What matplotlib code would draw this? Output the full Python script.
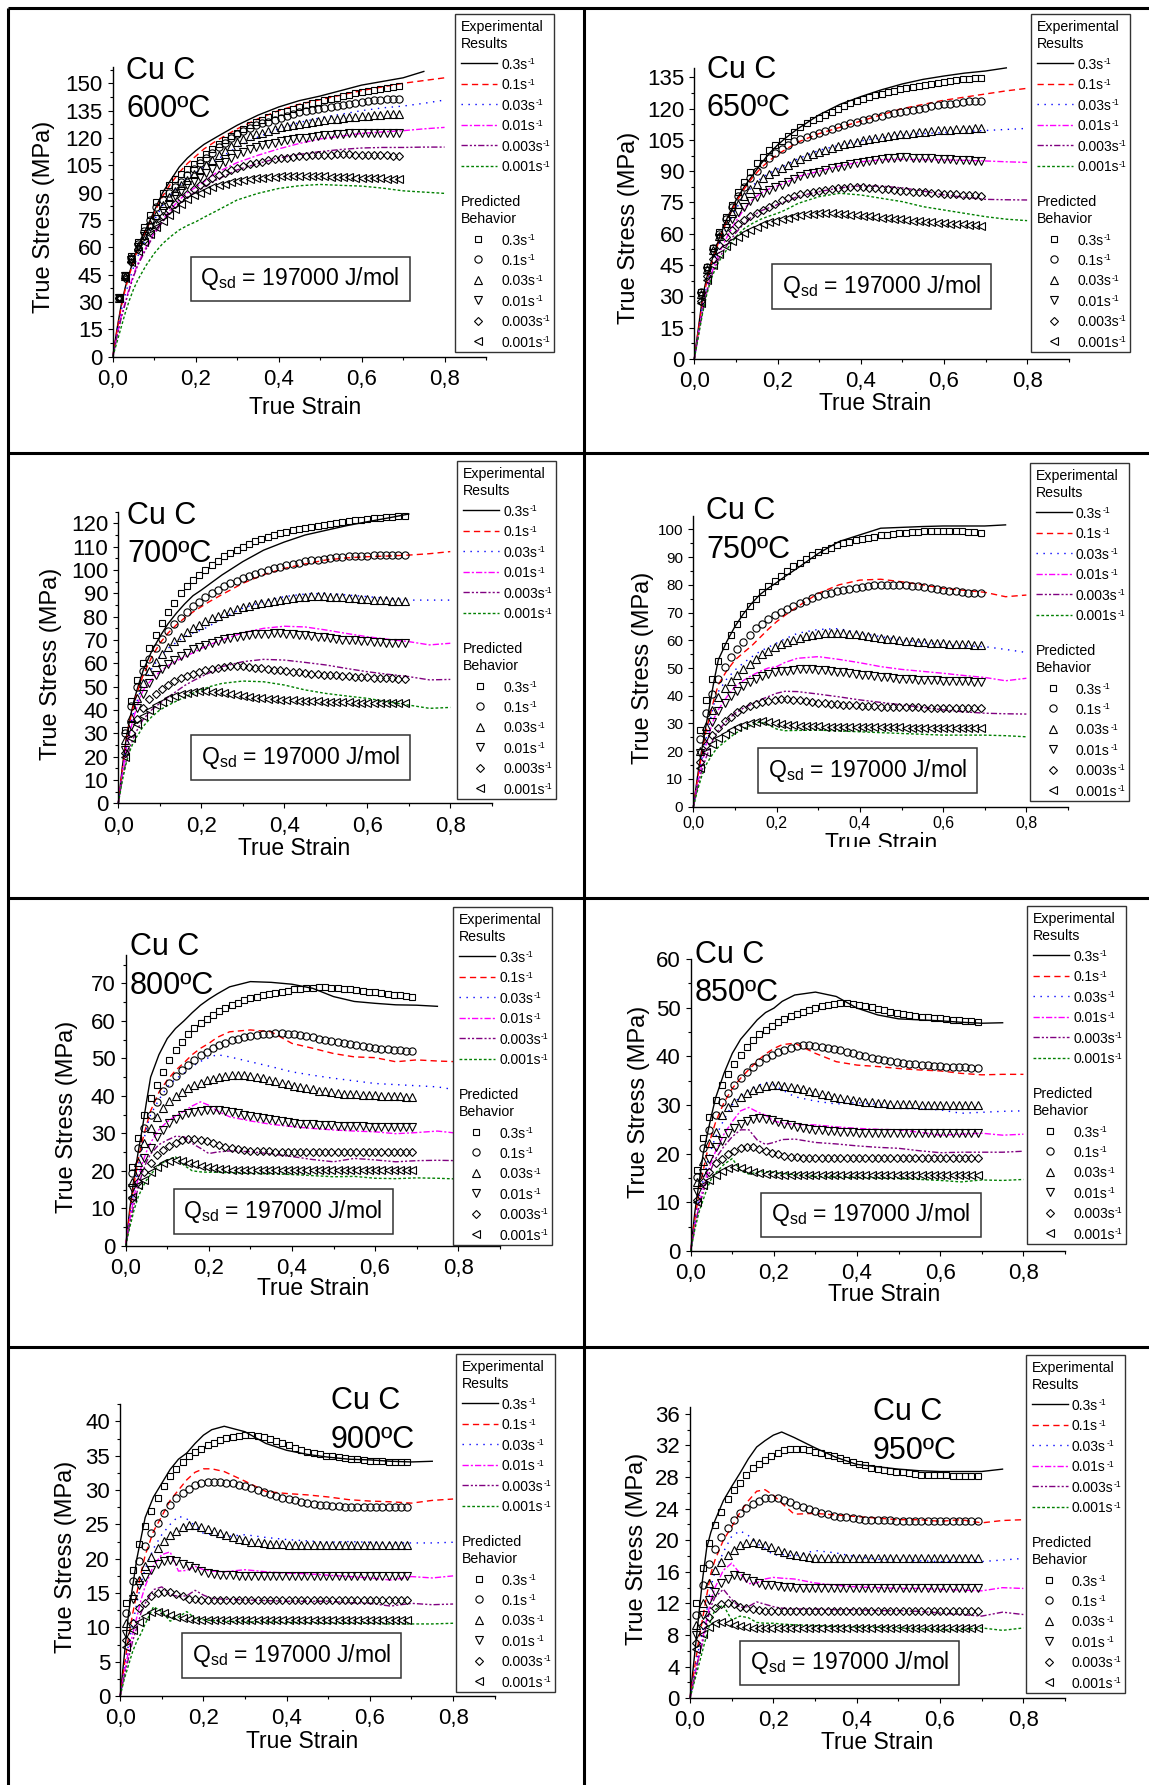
import numpy as np
import matplotlib
matplotlib.use('Agg')
import matplotlib.pyplot as plt
from matplotlib.patches import Rectangle
from matplotlib.ticker import MultipleLocator, FuncFormatter
from matplotlib.transforms import Bbox, TransformedBbox

plt.rcParams['font.family'] = ['Liberation Sans', 'DejaVu Sans']
plt.rcParams['mathtext.fontset'] = 'custom'
plt.rcParams['mathtext.rm'] = 'Liberation Sans'
plt.rcParams['mathtext.it'] = 'Liberation Sans:italic'
plt.rcParams['mathtext.bf'] = 'Liberation Sans:bold'

W, H = 1149, 1785
nan = np.nan

rates = ['0.3', '0.1', '0.03', '0.01', '0.003', '0.001']
temps = ['600', '650', '700', '750', '800', '850', '900', '950']

# strain where the experimental curves were read
exp_strain = [0, 0.01, 0.02, 0.03, 0.04, 0.05, 0.06, 0.08, 0.1, 0.12,
              0.14, 0.16, 0.18, 0.2, 0.22, 0.25, 0.3, 0.35, 0.4, 0.45,
              0.5, 0.55, 0.6, 0.65, 0.7, 0.75, 0.8]
# strain of the predicted points
pred_strain = [0.015, 0.03, 0.045, 0.06, 0.075, 0.09, 0.105, 0.12, 0.135, 0.15,
               0.165, 0.18, 0.195, 0.21, 0.225, 0.24, 0.255, 0.27, 0.285, 0.3,
               0.315, 0.33, 0.345, 0.36, 0.375, 0.39, 0.405, 0.42, 0.435, 0.45,
               0.465, 0.48, 0.495, 0.51, 0.525, 0.54, 0.555, 0.57, 0.585, 0.6,
               0.615, 0.63, 0.645, 0.66, 0.675, 0.69]

# ---------------- 600 C ----------------
exp600 = [
    [0, 15, 28, 38, 46, 53, 60, 70, 80, 90, 97, 104, 109, 113, 116.5, 120.5, 127, 132.5, 137, 140.5,
     143, 146, 149, 151, 153, 156.5, nan],
    [0, 14, 27, 37, 45, 52, 59, 69, 79, 88, 95, 101, 106, 110, 114, 118.5, 125, 130.5, 135, 138.5,
     141, 143.5, 146, 148, 150, 151.5, 153],
    [0, 13, 25, 34, 42, 49, 55, 65, 75, 83, 89, 94, 98, 101, 104, 108, 115, 120.5, 125, 128.5,
     131, 133, 135, 136.5, 137.5, 139, 140.8],
    [0, 11, 22, 30, 38, 45, 51, 60, 68, 75, 81, 86, 90, 93, 96, 101, 106.5, 110.5, 114, 117,
     119.5, 121, 122.5, 123.3, 124, 125, 125.8],
    [0, 11, 21, 29, 37, 44, 50, 59, 67, 74, 79.5, 84, 87.5, 90.5, 93, 97, 102.5, 106, 109, 111,
     112.5, 113.7, 114.5, 114.8, 114.8, 115, 115],
    [0, 8, 16, 24, 31, 37, 42, 50, 56.7, 62, 66, 69.5, 72, 74, 76.5, 80, 86, 89.6, 92.3, 93.8,
     94.5, 94, 93.6, 92.5, 91, 90.3, 89.6],
]
pred600 = [
    [33, 45, 55, 63, 71, 78, 85, 90, 94, 97.5,
     100.5, 103, 105.5, 108, 111, 114, 116.5, 119, 121, 123,
     125, 127, 128.5, 130, 131.5, 133, 134, 135, 136, 137,
     138, 139, 139.8, 140.6, 141.4, 142.2, 143, 143.8, 144.5, 145,
     145.6, 146.2, 146.8, 147.4, 148, 148.6],
    [32, 44, 54, 62, 69, 75, 82, 86, 90, 93,
     96, 99.5, 103, 106, 109, 112, 115, 117.5, 120, 122,
     124, 125.5, 127, 128, 129, 130, 131, 132, 133, 134,
     134.8, 135.5, 136, 136.6, 137.2, 137.8, 138.3, 138.8, 139.3, 139.8,
     140.2, 140.6, 141, 141.2, 141.4, 141.5],
    [32, 44, 54, 61, 67, 73, 78, 83, 87.5, 91,
     94, 97, 100, 102.5, 105, 108, 110.5, 113, 115.5, 118,
     119.5, 121, 122, 123, 124, 125, 125.8, 126.5, 127.2, 127.8,
     128.3, 128.8, 129.3, 129.8, 130.2, 130.6, 131, 131.4, 131.7, 132,
     132.3, 132.6, 132.8, 133, 133, 133],
    [32, 44, 53, 60, 66, 71, 75.5, 80, 84, 88,
     91, 94, 96.5, 98.7, 101, 103, 105, 107, 109, 111,
     112.5, 113.8, 115, 116, 116.8, 117.5, 118.2, 118.8, 119.3, 119.8,
     120.2, 120.6, 121, 121.4, 121.7, 122, 122.3, 122.5, 122.7, 122.8,
     122.9, 123, 123, 123, 123, 123],
    [32, 43, 52, 59, 64, 69, 73, 77, 80.5, 84,
     87, 89.5, 92, 94, 96, 98, 99.5, 101, 102.5, 103.5,
     104.5, 105.5, 106.3, 107, 107.7, 108.3, 108.8, 109.2, 109.6, 110,
     110.3, 110.5, 110.7, 110.8, 110.9, 111, 111, 111, 110.9, 110.8,
     110.7, 110.6, 110.5, 110.4, 110.3, 110.2],
    [32, 43, 52, 58, 63, 67.5, 71, 74.5, 78, 81,
     84, 86.5, 88.5, 90, 91.5, 93, 94, 95, 95.8, 96.5,
     97, 97.5, 98, 98.3, 98.6, 98.8, 99, 99.1, 99.2, 99.2,
     99.2, 99.1, 99, 98.9, 98.8, 98.7, 98.6, 98.5, 98.3, 98.2,
     98, 97.9, 97.8, 97.7, 97.5, 97.4],
]

# ---------------- 650 C ----------------
exp650 = [
    [0, 15, 30, 39, 46, 52, 58, 68, 76, 82.5, 88, 93.5, 98.5, 102.5, 106, 110.5, 117, 122, 125.7, 129,
     131.8, 134, 135.6, 137, 138, 139.5, nan],
    [0, 14, 28, 37, 45, 51, 57, 67, 75, 81.5, 87, 91.5, 95, 98, 100.5, 104, 108, 111, 114, 117,
     120, 122, 124, 125.5, 127, 128.5, 129.7],
    [0, 13, 26, 35, 43, 49, 55, 64, 72, 78, 83, 86.5, 89, 91, 93, 96, 100, 102.5, 104.5, 106,
     107.3, 108, 108.5, 109, 109.5, 110, 110.5],
    [0, 12, 24, 33, 40, 46, 51, 59, 66, 72, 76.5, 79.5, 81.5, 83, 84.5, 87.5, 90, 92.5, 94.5, 95.5,
     95.7, 95.5, 95.4, 95.2, 94.9, 94.5, 94.2],
    [0, 12, 23, 32, 39, 44, 48.5, 55, 60.5, 65, 68.5, 71, 72.5, 74, 75.5, 78, 80.2, 82, 83, 82.8,
     82, 80.5, 78.6, 77.5, 76.5, 76.3, 76.2],
    [0, 11, 22, 31, 38, 43, 47, 53, 58.6, 62.5, 65, 67, 68.5, 69.8, 71.5, 74.6, 77.8, 79.4, 78.6, 77,
     75.4, 73, 71.4, 69.8, 68.2, 67, 66.3],
]
pred650 = [
    [32, 44, 53, 61, 68, 74, 80, 85, 89.5, 93.8,
     97, 100, 102.5, 104.5, 107, 109, 111, 113, 114.3, 115.5,
     117, 118.5, 120, 121.3, 122.5, 123.5, 124.5, 125.5, 126.3, 127,
     127.8, 128.5, 129.2, 129.9, 130.5, 131, 131.5, 132, 132.4, 132.8,
     133.2, 133.6, 134, 134.3, 134.6, 134.8],
    [32, 44, 53, 60, 67, 73, 78, 82.5, 86.5, 90,
     93.5, 96.5, 98.5, 100.5, 102.5, 104.3, 105.5, 106.5, 107.3, 108.2,
     109.2, 110.2, 111.2, 112.2, 113, 113.7, 114.4, 115.1, 115.8, 116.5,
     117.2, 117.8, 118.4, 119, 119.5, 120, 120.5, 121, 121.5, 122,
     122.4, 122.8, 123.1, 123.4, 123.6, 123.8],
    [31, 43, 52, 59, 65, 70, 74.5, 78, 81.5, 84,
     86.5, 88.5, 90, 91.5, 93, 94.5, 96, 97.3, 98.4, 99.4,
     100.3, 101.2, 102, 102.8, 103.5, 104.2, 104.8, 105.3, 105.8, 106.3,
     106.8, 107.2, 107.6, 108, 108.3, 108.6, 108.9, 109.2, 109.5, 109.7,
     109.9, 110.1, 110.3, 110.4, 110.5, 110.5],
    [30, 42, 51, 58, 63, 67, 70.5, 73, 75.5, 77.8,
     79.5, 81, 82.3, 83.5, 85, 86.3, 87.5, 88.5, 89.2, 89.8,
     90.5, 91.3, 92, 92.7, 93.3, 94, 94.6, 95, 95.4, 95.8,
     96.2, 96.5, 96.6, 96.6, 96.5, 96.4, 96.3, 96.1, 96, 95.8,
     95.6, 95.5, 95.3, 95.2, 95.1, 95],
    [28, 40, 48, 54.5, 58.5, 62, 64.5, 66.5, 68.5, 70,
     71.5, 73, 74.5, 76, 77.2, 78.2, 79, 79.7, 80.2, 80.6,
     81, 81.4, 81.8, 82, 82.2, 82.3, 82.2, 82, 81.8, 81.6,
     81.3, 81, 80.7, 80.4, 80.2, 80, 79.8, 79.6, 79.4, 79.2,
     79, 78.9, 78.7, 78.6, 78.4, 78.3],
    [27, 38, 45, 50.5, 54, 56.5, 58.5, 60.5, 62, 63.4,
     64.5, 65.5, 66.3, 67, 67.7, 68.3, 68.8, 69.3, 69.7, 70,
     70, 69.9, 69.7, 69.5, 69.2, 69, 68.7, 68.4, 68.1, 67.8,
     67.5, 67.2, 66.9, 66.6, 66.3, 66, 65.7, 65.5, 65.3, 65.1,
     64.9, 64.7, 64.5, 64.3, 64.1, 63.9],
]

# ---------------- 700 C ----------------
exp700 = [
    [0, 16, 29, 38, 45.5, 51.5, 57, 65, 71.4, 77, 81.5, 85.5, 89, 91.4, 94, 97.9, 103.6, 108.5, 112, 115,
     117, 119, 120.7, 122.3, 124, nan, nan],
    [0, 15, 28, 37, 44, 50, 55, 62.5, 68.6, 73, 76.5, 79.5, 82, 84.3, 86.5, 89.5, 94.3, 98, 100.7, 102.6,
     104.3, 105.2, 105.7, 106, 106.4, 107, 107.9],
    [0, 14, 26, 34, 41, 46.5, 51, 57.5, 62.9, 66.5, 69, 71.5, 73, 74.3, 76, 79.5, 83.6, 86.5, 88.6, 89.7,
     90, 89.3, 88.6, 87.8, 87.1, 87.1, 87.1],
    [0, 13, 24, 32, 38.5, 44.3, 48.5, 53, 56.4, 59, 61, 62.8, 64.5, 66.4, 68, 70, 73.1, 75, 75.9, 75.6,
     74.3, 72.8, 71.4, 70.3, 69.3, 67.9, 68.6],
    [0, 11, 19, 25, 29.5, 33, 36, 40, 42.9, 45.5, 48, 50.5, 52.5, 54.3, 56, 58.6, 60.7, 61.7, 61.4, 60.4,
     59.3, 57.8, 56.4, 55.3, 54.3, 52.9, 53.1],
    [0, 10, 18, 23.5, 27.5, 30, 33, 37, 40, 42, 43.8, 45.5, 47.2, 48.6, 50, 51.4, 52.4, 52.1, 50.7, 48.6,
     47.1, 46, 45, 43.5, 42.1, 40.7, 41.1],
]
pred700 = [
    [31.5, 44, 53, 60, 66.5, 72, 77.5, 82, 86, 90,
     93, 95.8, 98, 100, 102, 104, 105.8, 107.3, 108.7, 110,
     111.2, 112.3, 113.3, 114.2, 115, 115.7, 116.4, 117, 117.6, 118.1,
     118.6, 119, 119.4, 119.8, 120.2, 120.6, 121, 121.3, 121.6, 121.9,
     122.2, 122.5, 122.7, 122.9, 123.1, 123.3],
    [30, 41.5, 50, 56.5, 62, 66.5, 70.5, 74, 77, 79.5,
     82, 84.5, 86.5, 88.3, 90, 91.5, 93, 94.3, 95.4, 96.4,
     97.4, 98.3, 99.2, 100, 100.8, 101.5, 102.1, 102.7, 103.2, 103.7,
     104.1, 104.5, 104.9, 105.2, 105.5, 105.7, 105.9, 106, 106.1, 106.2,
     106.3, 106.3, 106.4, 106.4, 106.4, 106.4],
    [27, 37, 45, 51.5, 56.5, 60.5, 64, 67, 69.5, 71.5,
     73.5, 75, 76.5, 78, 79.3, 80.5, 81.6, 82.5, 83.3, 84,
     84.7, 85.3, 85.9, 86.4, 86.9, 87.3, 87.7, 88, 88.3, 88.5,
     88.7, 88.7, 88.7, 88.6, 88.5, 88.3, 88.1, 87.9, 87.7, 87.5,
     87.3, 87.2, 87, 86.9, 86.8, 86.7],
    [23, 33, 41, 47, 51.5, 55, 57.5, 59.5, 61.5, 63,
     64.5, 66, 67, 68, 68.8, 69.6, 70.3, 70.9, 71.4, 71.8,
     72.1, 72.4, 72.6, 72.7, 72.8, 72.8, 72.7, 72.5, 72.3, 72,
     71.7, 71.4, 71.1, 70.8, 70.5, 70.2, 70, 69.8, 69.6, 69.4,
     69.2, 69, 68.9, 68.8, 68.7, 68.6],
    [21.5, 30, 36, 41, 44.5, 47, 49, 50.8, 52.3, 53.5,
     54.6, 55.5, 56.3, 57, 57.6, 58.1, 58.5, 58.7, 58.8, 58.7,
     58.5, 58.2, 57.9, 57.6, 57.3, 57, 56.7, 56.4, 56.1, 55.9,
     55.6, 55.4, 55.2, 55, 54.8, 54.6, 54.4, 54.3, 54.1, 54,
     53.8, 53.7, 53.6, 53.5, 53.4, 53.3],
    [20, 28, 34, 37.5, 40, 42, 43.5, 45, 46, 46.8,
     47.4, 47.8, 48, 48, 47.8, 47.5, 47.1, 46.7, 46.3, 45.9,
     45.6, 45.3, 45, 44.8, 44.6, 44.4, 44.2, 44.1, 44, 43.9,
     43.8, 43.7, 43.6, 43.5, 43.4, 43.3, 43.3, 43.2, 43.2, 43.1,
     43.1, 43, 43, 43, 42.9, 42.9],
]

# ---------------- 750 C ----------------
exp750 = [
    [0, 11, 20.5, 29, 37.3, 45.7, 53, 59.5, 65, 69.5, 73.3, 76.5, 78.8, 80.8, 83, 86, 91.3, 95.6, 98, 100.4,
     100.7, 101, 101.2, 101.2, 101.2, 101.6, nan],
    [0, 10, 19, 27, 33, 39, 44, 49, 52.9, 55.5, 58, 61, 64, 66.7, 69, 72.1, 76.9, 80, 81.7, 82,
     81.1, 80, 78.7, 78, 77.3, 75.7, 76.3],
    [0, 9, 17, 24, 31, 37.3, 41.5, 46, 49.3, 51.8, 54, 56, 57.5, 59, 60.5, 62.5, 63.9, 64.2, 62.5, 61.3,
     60.1, 59.2, 58.3, 58, 57.7, 56.7, 55.6],
    [0, 8, 15, 21.5, 27.5, 32, 35, 39.5, 43.3, 45.5, 47.3, 48.8, 50, 50.5, 52, 53.5, 54.1, 53.1, 51.9, 50.5,
     49.5, 48.8, 48.1, 47.3, 46.6, 45.4, 46.3],
    [0, 7, 13, 17.5, 21.5, 25.2, 27.5, 31, 33.7, 35.5, 37, 38.5, 39.7, 40.9, 41.6, 41.5, 40.6, 39.6, 38.5, 37.6,
     36.7, 35.8, 34.9, 34.2, 33.7, 33.5, 33.4],
    [0, 6, 11, 15, 17.5, 19.8, 21.5, 24, 26.4, 28, 29.5, 30.6, 29.5, 28, 27.4, 27.5, 27.6, 27.3, 27, 26.7,
     26.4, 26.1, 25.8, 25.8, 25.8, 25.6, 25.2],
]
pred750 = [
    [27.6, 38.5, 46, 52.6, 58, 62, 66, 69.5, 72.5, 75,
     77.3, 79.5, 81.5, 83.3, 85, 86.6, 88, 89.4, 90.6, 91.7,
     92.6, 93.4, 94.2, 94.9, 95.5, 96.1, 96.6, 97, 97.4, 97.8,
     98.1, 98.4, 98.6, 98.8, 99, 99.2, 99.3, 99.4, 99.5, 99.5,
     99.5, 99.4, 99.3, 99.1, 99, 98.8],
    [24.3, 33.7, 40.6, 46, 50.5, 54, 57, 59.5, 62, 64.3,
     66, 67.5, 69, 70.2, 71.3, 72.4, 73.4, 74.3, 75.1, 75.9,
     76.6, 77.2, 77.7, 78.2, 78.6, 79, 79.3, 79.6, 79.8, 80,
     80, 80, 79.9, 79.8, 79.6, 79.4, 79.1, 78.8, 78.5, 78.2,
     77.9, 77.7, 77.4, 77.2, 77, 76.9],
    [20, 29, 35, 39.5, 42.7, 45.3, 47.5, 49.5, 51.5, 53.3,
     55, 56.3, 57.5, 58.5, 59.4, 60.2, 60.9, 61.5, 62, 62.3,
     62.5, 62.6, 62.6, 62.5, 62.3, 62.1, 61.8, 61.5, 61.2, 60.9,
     60.6, 60.3, 60.1, 59.9, 59.7, 59.5, 59.3, 59.1, 59, 58.9,
     58.8, 58.7, 58.6, 58.5, 58.4, 58.3],
    [19.2, 25, 30.5, 34.5, 37.5, 39.8, 41.8, 43.5, 44.9, 46,
     47, 47.8, 48.4, 48.8, 49.1, 49.3, 49.5, 49.6, 49.5, 49.4,
     49.2, 49, 48.7, 48.4, 48.1, 47.8, 47.5, 47.3, 47, 46.8,
     46.6, 46.4, 46.2, 46, 45.9, 45.8, 45.7, 45.6, 45.5, 45.4,
     45.3, 45.3, 45.2, 45.2, 45.1, 45.1],
    [16.2, 22.2, 25.8, 28.5, 30.8, 32.5, 34, 35.3, 36.3, 37,
     37.7, 38.2, 38.5, 38.7, 38.7, 38.6, 38.4, 38.1, 37.8, 37.5,
     37.3, 37.1, 36.9, 36.7, 36.6, 36.5, 36.4, 36.3, 36.2, 36.1,
     36, 35.9, 35.9, 35.8, 35.8, 35.8, 35.7, 35.7, 35.7, 35.7,
     35.7, 35.7, 35.7, 35.7, 35.7, 35.7],
    [13.8, 19.8, 22.5, 24.6, 26.3, 27.6, 28.6, 29.4, 30.1, 30.6,
     30.8, 30.6, 30.2, 29.8, 29.5, 29.3, 29.2, 29.1, 29, 29,
     28.9, 28.9, 28.8, 28.8, 28.7, 28.7, 28.7, 28.6, 28.6, 28.6,
     28.6, 28.6, 28.6, 28.5, 28.5, 28.5, 28.5, 28.5, 28.5, 28.5,
     28.5, 28.5, 28.5, 28.5, 28.5, 28.5],
]

# ---------------- 800 C ----------------
exp800 = [
    [0, 10, 18, 25, 31.3, 38.4, 45, 51, 55.3, 58, 60, 62.2, 64.2, 65.8, 67.2, 69.1, 70.5, 70.3, 69.8, 68.7,
     66.5, 65.2, 64.7, 64.3, 64.2, 63.9, nan],
    [0, 9, 16.5, 23, 28, 32.2, 36, 41, 44.2, 46.8, 48.8, 51, 52.7, 54, 55.6, 57.1, 57.6, 57.1, 54, 52.7,
     51.3, 50.4, 50.2, 49.1, 49.6, 49.3, 49.1],
    [0, 8, 15, 21, 26.5, 31.3, 35, 39, 42.4, 44.5, 46, 47.8, 49.2, 50.2, 51, 50.4, 49.1, 47.8, 46.4, 45.5,
     44.7, 44, 43.3, 43, 42.7, 42.4, 41.5],
    [0, 7, 13, 18, 22, 25.1, 27.5, 31, 33.1, 34.6, 35.9, 37.3, 38.4, 37.5, 36, 34.4, 33.3, 32.4, 31.8, 31.3,
     30.9, 30.6, 30.4, 29.9, 30.2, 30.6, 30],
    [0, 6, 11, 15.5, 19.5, 22.4, 24.5, 27, 28.2, 29.2, 29.1, 27.3, 26, 24.6, 25, 25.3, 25.1, 24.5, 23.8, 23,
     22.4, 23.3, 22.9, 22.4, 22.7, 22.8, 22.7],
    [0, 5, 9.5, 13, 15.5, 17.5, 19, 21.5, 22.9, 23.7, 21.5, 20, 19.7, 19.6, 19.6, 19.5, 19.3, 19.2, 19, 18.7,
     18.4, 18.5, 18, 17.9, 18.1, 18, 17.8],
]
pred800 = [
    [21, 28.8, 34.9, 39.3, 43, 46.5, 49.5, 52.2, 54.5, 56.4,
     58, 59.4, 60.6, 61.7, 62.6, 63.5, 64.2, 64.9, 65.5, 66,
     66.4, 66.8, 67.2, 67.5, 67.8, 68.1, 68.4, 68.6, 68.8, 68.9,
     69, 69, 68.9, 68.8, 68.6, 68.4, 68.2, 68, 67.8, 67.6,
     67.4, 67.2, 67, 66.8, 66.7, 66.5],
    [19.3, 26, 31.3, 34.9, 38.4, 41.2, 43.5, 45.3, 46.9, 48.3,
     49.6, 50.8, 51.8, 52.7, 53.5, 54.2, 54.8, 55.3, 55.7, 56,
     56.3, 56.5, 56.6, 56.7, 56.7, 56.6, 56.4, 56.2, 55.9, 55.6,
     55.3, 55, 54.7, 54.4, 54.1, 53.8, 53.5, 53.2, 53, 52.8,
     52.6, 52.4, 52.3, 52.2, 52.1, 52],
    [17.1, 22.4, 27.3, 31.3, 34.4, 36.8, 38.6, 40, 41.1, 42,
     42.8, 43.5, 44.1, 44.6, 45, 45.3, 45.5, 45.6, 45.5, 45.3,
     45, 44.7, 44.3, 43.9, 43.5, 43.1, 42.7, 42.3, 42, 41.7,
     41.4, 41.2, 41, 40.8, 40.6, 40.5, 40.4, 40.3, 40.2, 40.1,
     40, 40, 39.9, 39.9, 39.8, 39.8],
    [15.3, 19.3, 23.3, 26, 29.1, 31, 32.7, 33.9, 34.8, 35.3,
     35.7, 36, 36.2, 36.2, 36.1, 35.9, 35.6, 35.3, 35, 34.7,
     34.4, 34.1, 33.8, 33.5, 33.2, 33, 32.8, 32.6, 32.5, 32.4,
     32.3, 32.2, 32.1, 32, 32, 31.9, 31.9, 31.9, 31.8, 31.8,
     31.8, 31.8, 31.8, 31.8, 31.8, 31.8],
    [12.6, 17.1, 19.8, 22, 24.2, 25.6, 26.7, 27.5, 28.1, 28.4,
     28.5, 28.3, 27.9, 27.4, 26.9, 26.4, 26, 25.7, 25.5, 25.4,
     25.3, 25.2, 25.2, 25.1, 25.1, 25.1, 25.1, 25.1, 25.1, 25.1,
     25.1, 25.1, 25.1, 25.1, 25.1, 25.1, 25.1, 25.1, 25.1, 25.1,
     25.1, 25.1, 25.1, 25.1, 25.1, 25.1],
    [13.1, 16.2, 17.5, 19.8, 21, 22, 22.6, 22.9, 22.7, 22.2,
     21.7, 21.2, 20.9, 20.7, 20.5, 20.4, 20.3, 20.3, 20.2, 20.2,
     20.2, 20.2, 20.2, 20.2, 20.2, 20.2, 20.2, 20.2, 20.2, 20.2,
     20.2, 20.2, 20.2, 20.2, 20.2, 20.2, 20.2, 20.2, 20.2, 20.2,
     20.2, 20.2, 20.2, 20.2, 20.2, 20.2],
]

# ---------------- 850 C ----------------
exp850 = [
    [0, 8, 14, 20, 24, 27.9, 31.5, 36.5, 40.6, 43.5, 45.5, 47.5, 49, 49.9, 51.3, 52.6, 53.2, 52.3, 49.9, 48.5,
     47.7, 47.5, 47.3, 47, 46.8, 46.9, nan],
    [0, 6.5, 12, 16.5, 20.5, 23.8, 26.5, 30.5, 33.4, 35.5, 37.3, 39, 40.5, 41.6, 42.4, 42.7, 40.6, 38.9, 38.2, 37.9,
     37.5, 37.2, 37, 36.5, 36.2, 36.3, 36.3],
    [0, 6, 11, 14.5, 18, 21.1, 23.5, 27, 30, 31.8, 33, 33.9, 34.7, 34.1, 33.1, 31.7, 30.8, 30.2, 30.5, 30.1,
     29.3, 29.2, 29, 28.3, 28.5, 28.7, 28.8],
    [0, 5, 9.5, 13, 16, 18.4, 20.5, 24, 26.6, 28.8, 29.5, 28.6, 27.9, 26.7, 26.3, 26, 25.9, 25.5, 25.2, 25,
     24.9, 24.4, 23.8, 24, 24.2, 23.8, 24],
    [0, 5, 9, 12, 15, 17, 19, 21.5, 23.5, 24.9, 24.9, 22.8, 21.9, 22.3, 22.9, 23, 22.3, 22, 21.6, 21.3,
     21.1, 20.6, 20.2, 20.3, 20.3, 20.3, 20.5],
    [0, 4.5, 8, 10.5, 13, 14.9, 16, 17.8, 19, 16.5, 15.8, 16.2, 16.3, 16.2, 15.9, 15.7, 15.3, 15.2, 15.1, 15,
     14.9, 14.7, 14.5, 14.2, 14.6, 14.5, 14.7],
]
pred850 = [
    [16.6, 23.2, 27.6, 31, 34.1, 36.4, 38.4, 40.2, 41.9, 43.3,
     44.6, 45.5, 46.3, 47, 47.7, 48.3, 48.8, 49.2, 49.6, 50,
     50.3, 50.6, 50.8, 50.9, 50.9, 50.8, 50.6, 50.4, 50.1, 49.8,
     49.5, 49.2, 48.9, 48.7, 48.5, 48.3, 48.1, 48, 47.9, 47.8,
     47.6, 47.5, 47.4, 47.3, 47.2, 47.1],
    [15.3, 21.1, 24.9, 27.9, 30.7, 32.5, 34.1, 35.5, 36.8, 37.9,
     38.9, 39.7, 40.3, 40.9, 41.4, 41.8, 42.1, 42.3, 42.3, 42.2,
     42, 41.8, 41.5, 41.2, 40.9, 40.6, 40.3, 40, 39.7, 39.5,
     39.3, 39.1, 38.9, 38.7, 38.5, 38.4, 38.3, 38.2, 38.1, 38,
     37.9, 37.9, 37.8, 37.8, 37.7, 37.7],
    [14.2, 18.4, 22.1, 24.5, 27.9, 29.5, 30.6, 31.6, 32.4, 33,
     33.5, 33.9, 34.1, 34.1, 34, 33.8, 33.5, 33.2, 32.9, 32.6,
     32.3, 32, 31.7, 31.4, 31.2, 31, 30.8, 30.7, 30.6, 30.5,
     30.4, 30.3, 30.3, 30.2, 30.2, 30.2, 30.1, 30.1, 30.1, 30.1,
     30.1, 30.1, 30.1, 30.1, 30.1, 30.1],
    [12.2, 16, 19, 21.4, 22.6, 24.3, 25.2, 26, 26.7, 27.1,
     27.3, 27.2, 26.9, 26.5, 26.1, 25.8, 25.5, 25.3, 25.1, 24.9,
     24.8, 24.7, 24.6, 24.5, 24.4, 24.4, 24.3, 24.3, 24.2, 24.2,
     24.2, 24.2, 24.2, 24.2, 24.2, 24.2, 24.2, 24.2, 24.2, 24.2,
     24.2, 24.2, 24.2, 24.2, 24.2, 24.2],
    [10.5, 14.2, 16.3, 18, 19, 20, 20.6, 21.1, 21.4, 21.3,
     21, 20.6, 20.2, 19.9, 19.6, 19.4, 19.3, 19.2, 19.2, 19.2,
     19.2, 19.2, 19.2, 19.2, 19.2, 19.2, 19.2, 19.2, 19.2, 19.2,
     19.2, 19.2, 19.2, 19.2, 19.2, 19.2, 19.2, 19.2, 19.2, 19.2,
     19.2, 19.2, 19.2, 19.2, 19.2, 19.2],
    [10.1, 13.6, 14.6, 15.6, 16.5, 17.1, 17.3, 17, 16.6, 16.2,
     16, 15.9, 15.8, 15.7, 15.7, 15.6, 15.6, 15.6, 15.6, 15.6,
     15.6, 15.6, 15.6, 15.6, 15.6, 15.6, 15.6, 15.6, 15.6, 15.6,
     15.6, 15.6, 15.6, 15.6, 15.6, 15.6, 15.6, 15.6, 15.6, 15.6,
     15.6, 15.6, 15.6, 15.6, 15.6, 15.6],
]

# ---------------- 900 C ----------------
exp900 = [
    [0, 6, 12, 16, 20, 23, 26, 29, 31, 33, 34.5, 35.4, 36.8, 38, 38.8, 39.3, 38.5, 36.8, 35.8, 35.2,
     34.8, 34.5, 34.4, 34.2, 34.1, 34.2, nan],
    [0, 4.5, 8.5, 12, 15, 17.9, 20.5, 24, 26.2, 28.5, 30, 31.5, 32.6, 33.1, 33.1, 32.7, 31.3, 29.8, 29.5, 29.3,
     29, 28.6, 28.4, 28.3, 28.1, 28.5, 28.7],
    [0, 4, 7.5, 10.5, 13.5, 16.4, 18.5, 21.5, 23.5, 25, 26.2, 25.8, 24.8, 23.7, 23.5, 23.2, 23.5, 23.1, 22.8, 22.6,
     22.4, 22.5, 22.4, 22.3, 22.3, 22.3, 22.4],
    [0, 3.5, 6.5, 9, 11.5, 14, 16, 19, 20.6, 21, 18.2, 18.3, 18.9, 18.4, 18.2, 18.1, 18.4, 18.1, 17.9, 17.8,
     17.6, 17.4, 17.2, 16.9, 17.4, 17.2, 17.5],
    [0, 3, 5.5, 8, 10, 12.1, 13.5, 15.5, 15.9, 14.8, 14.5, 14.6, 15.4, 14.7, 14.2, 14.1, 14, 13.9, 13.8, 13.8,
     13.8, 13.6, 13.5, 13.1, 13.5, 13.3, 13.4],
    [0, 2.5, 4.5, 6.5, 8, 9.1, 10.5, 13, 12.3, 10.9, 11.5, 12.3, 11.3, 11.1, 11, 10.9, 10.8, 10.8, 10.7, 10.7,
     10.6, 10.6, 10.6, 10.5, 10.5, 10.5, 10.6],
]
pred900 = [
    [13.5, 18.4, 22.2, 24.7, 26.9, 28.8, 30.6, 32, 33.1, 34.1,
     34.9, 35.5, 36, 36.5, 36.9, 37.3, 37.6, 37.8, 37.9, 38,
     38, 37.9, 37.7, 37.4, 37.1, 36.8, 36.5, 36.2, 35.9, 35.6,
     35.4, 35.2, 35, 34.9, 34.8, 34.7, 34.6, 34.5, 34.4, 34.3,
     34.2, 34.2, 34.1, 34.1, 34.1, 34.1],
    [12.1, 16.7, 19.6, 21.9, 23.7, 25.2, 26.6, 27.8, 28.8, 29.6,
     30.2, 30.7, 31, 31.2, 31.2, 31.2, 31.1, 31, 30.8, 30.6,
     30.3, 30, 29.7, 29.4, 29.1, 28.9, 28.7, 28.5, 28.3, 28.1,
     28, 27.9, 27.8, 27.7, 27.7, 27.6, 27.6, 27.6, 27.5, 27.5,
     27.5, 27.5, 27.5, 27.5, 27.5, 27.5],
    [10.6, 14.7, 16.9, 18.9, 20.3, 21.5, 22.6, 23.4, 24.1, 24.6,
     24.9, 24.9, 24.6, 24.3, 24, 23.7, 23.4, 23.1, 22.9, 22.7,
     22.5, 22.4, 22.3, 22.2, 22.1, 22.1, 22, 22, 22, 22,
     22, 22, 22, 22, 22, 22, 22, 22, 22, 22,
     22, 22, 22, 22, 22, 22],
    [9.1, 14.2, 16.2, 17.3, 18.4, 19.3, 19.7, 19.8, 19.7, 19.3,
     18.9, 18.6, 18.2, 17.9, 17.8, 17.7, 17.6, 17.6, 17.5, 17.5,
     17.5, 17.5, 17.5, 17.5, 17.5, 17.5, 17.5, 17.5, 17.5, 17.5,
     17.5, 17.5, 17.5, 17.5, 17.5, 17.5, 17.5, 17.5, 17.5, 17.5,
     17.5, 17.5, 17.5, 17.5, 17.5, 17.5],
    [8.2, 10.6, 12.8, 13.5, 14.5, 15, 15.2, 15.2, 14.9, 14.5,
     14.2, 14.1, 14, 14, 14, 14, 14, 14, 14, 14,
     14, 14, 14, 14, 14, 14, 14, 14, 14, 14,
     14, 14, 14, 14, 14, 14, 14, 14, 14, 14,
     14, 14, 14, 14, 14, 14],
    [7.2, 9.6, 10.8, 11.7, 12.3, 12.3, 12.1, 11.8, 11.5, 11.3,
     11.2, 11.1, 11.1, 11.1, 11.1, 11.1, 11.1, 11.1, 11.1, 11.1,
     11.1, 11.1, 11.1, 11.1, 11.1, 11.1, 11.1, 11.1, 11.1, 11.1,
     11.1, 11.1, 11.1, 11.1, 11.1, 11.1, 11.1, 11.1, 11.1, 11.1,
     11.1, 11.1, 11.1, 11.1, 11.1, 11.1],
]

# ---------------- 950 C ----------------
exp950 = [
    [0, 5, 10, 15, 19, 21, 22.5, 25, 26.8, 28.5, 30.3, 31.8, 32.6, 33.3, 33.7, 33, 31.7, 30.5, 29.6, 29.3,
     29, 28.8, 28.7, 28.7, 28.7, 29, nan],
    [0, 3.5, 7, 10, 13, 15.8, 17.5, 20, 21.7, 23.5, 25, 26.2, 26.4, 25.7, 24.7, 23.3, 23.4, 23.2, 23, 22.8,
     22.6, 22.6, 22.4, 22.6, 22.2, 22.5, 22.6],
    [0, 3, 6, 8.5, 11, 14.1, 16, 18.5, 20.5, 21.2, 20.6, 19.6, 19, 18.1, 18.2, 18, 18.7, 18.4, 17.9, 17.6,
     17.5, 17.4, 17.3, 17.3, 17.3, 17.5, 17.7],
    [0, 2.5, 5, 7.5, 10, 12.4, 14, 16.2, 17.1, 15.8, 14.5, 14.6, 15.1, 15.3, 15.2, 15.1, 14.6, 14.3, 14.1, 14,
     13.9, 13.9, 13.8, 13.7, 13.6, 14, 13.9],
    [0, 2.5, 5, 7, 9.5, 11.6, 12.8, 13.8, 12.5, 11.5, 11.6, 12.2, 11.9, 11.6, 11.4, 11.3, 11.3, 11.2, 11.2, 11.1,
     11.1, 11, 10.8, 10.6, 10.4, 10.9, 10.6],
    [0, 2, 4, 6, 8, 9.9, 11.2, 11.8, 9.9, 10.4, 10.2, 9.6, 9.5, 9.5, 9.4, 9.3, 9.2, 9.1, 9, 9,
     8.9, 8.8, 8.7, 8.7, 8.9, 8.6, 8.9],
]
pred950 = [
    [12, 16.5, 19.6, 21.9, 23.6, 25.2, 26.4, 27.3, 28.3, 29.1,
     29.7, 30.2, 30.7, 31, 31.4, 31.6, 31.6, 31.6, 31.4, 31.2,
     31, 30.8, 30.6, 30.4, 30.2, 29.9, 29.7, 29.5, 29.2, 29,
     28.9, 28.8, 28.7, 28.6, 28.5, 28.4, 28.3, 28.3, 28.2, 28.2,
     28.2, 28.1, 28.1, 28.1, 28.1, 28.1],
    [10.6, 14.4, 17, 18.9, 20.4, 21.6, 22.6, 23.4, 24.1, 24.6,
     25, 25.3, 25.4, 25.3, 25.1, 24.8, 24.5, 24.2, 23.9, 23.7,
     23.5, 23.3, 23.1, 23, 22.9, 22.8, 22.7, 22.6, 22.6, 22.5,
     22.5, 22.5, 22.4, 22.4, 22.4, 22.4, 22.4, 22.4, 22.4, 22.4,
     22.4, 22.4, 22.4, 22.4, 22.4, 22.4],
    [9.3, 12, 14.6, 16.2, 17.2, 18.1, 18.8, 19.4, 19.7, 19.8,
     19.7, 19.4, 19.1, 18.8, 18.5, 18.3, 18.1, 18, 17.9, 17.8,
     17.8, 17.7, 17.7, 17.7, 17.7, 17.7, 17.7, 17.7, 17.7, 17.7,
     17.7, 17.7, 17.7, 17.7, 17.7, 17.7, 17.7, 17.7, 17.7, 17.7,
     17.7, 17.7, 17.7, 17.7, 17.7, 17.7],
    [8, 10.5, 12.4, 13.4, 14.6, 15.1, 15.6, 15.5, 15.2, 14.9,
     14.6, 14.4, 14.3, 14.2, 14.1, 14.1, 14, 14, 14, 14,
     14, 14, 14, 14, 14, 14, 14, 14, 14, 14,
     14, 14, 14, 14, 14, 14, 14, 14, 14, 14,
     14, 14, 14, 14, 14, 14],
    [7, 9.3, 10.3, 11.4, 11.9, 12, 11.9, 11.6, 11.4, 11.3,
     11.2, 11.1, 11.1, 11.1, 11.1, 11.1, 11.1, 11.1, 11.1, 11.1,
     11.1, 11.1, 11.1, 11.1, 11.1, 11.1, 11.1, 11.1, 11.1, 11.1,
     11.1, 11.1, 11.1, 11.1, 11.1, 11.1, 11.1, 11.1, 11.1, 11.1,
     11.1, 11.1, 11.1, 11.1, 11.1, 11.1],
    [6.3, 8.2, 9, 9.5, 9.6, 9.5, 9.3, 9.1, 9, 8.9,
     8.9, 8.9, 8.9, 8.9, 8.9, 8.9, 8.9, 8.9, 8.9, 8.9,
     8.9, 8.9, 8.9, 8.9, 8.9, 8.9, 8.9, 8.9, 8.9, 8.9,
     8.9, 8.9, 8.9, 8.9, 8.9, 8.9, 8.9, 8.9, 8.9, 8.9,
     8.9, 8.9, 8.9, 8.9, 8.9, 8.9],
]

exp_data = [exp600, exp650, exp700, exp750, exp800, exp850, exp900, exp950]
pred_data = [pred600, pred650, pred700, pred750, pred800, pred850, pred900, pred950]

# styles
line_colors = ['black', '#FF0000', '#0000FF', '#FF00FF', '#800080', '#008000']
line_styles = ['-', (0, (4.5, 3)), (0, (1, 4)), (0, (4.5, 1.5, 1.5, 1.5)),
               (0, (4.5, 1.5, 1.5, 1.5, 1.5, 1.5)), (0, (2, 1.5))]
markers = ['s', 'o', '^', 'v', 'D', '<']
marker_sizes = [5, 5.2, 5.5, 5.5, 4.2, 5.5]

# layout in pixels: axis origin x0,y0, px per unit strain, top of y axis, ymax, y step
axes_px = [
    (112.8, 356.7, 414.7, 66.7, 159.1, 15),
    (694.3, 359.0, 416.0, 68.3, 139.3, 15),
    (118.3, 803.3, 415.0, 511.7, 125.0, 10),
    (693.4, 806.7, 416.2, 516.0, 104.8, 10),
    (125.7, 1245.7, 415.6, 955.0, 77.6, 10),
    (690.7, 1251.0, 415.9, 959.0, 60.0, 10),
    (120.2, 1696.0, 416.1, 1404.3, 42.5, 5),
    (690.0, 1698.3, 416.7, 1406.7, 36.9, 4),
]
ytick_size = [16, 16, 16, 11, 16, 16, 16, 16]
xtick_size = [16, 16, 16, 11.5, 16, 16, 16, 16]
xtick_pad = [5, 5, 5, 3.2, 5, 5, 5, 4.6]
xlabel_pos = [(305, 407), (875, 403), (294, 848), (881, 843), (313, 1288), (884, 1294), (302, 1741), (877, 1742)]
ylabel_pos = [(44, 217), (629, 228), (51, 664), (643, 668), (67, 1117), (639, 1102), (66, 1557), (637, 1549)]
title_pos = [(126, 79, 117), (707, 78, 116), (127, 524, 562), (706, 519, 558),
             (130, 955, 994), (695, 963, 1001), (331, 1409, 1448), (873, 1420, 1459)]
key_pos = [(455, 14), (1031, 14), (457, 461), (1030, 463), (453, 907), (1027, 906), (456, 1354), (1026, 1355)]
qsd_box = [(190.5, 257, 409.9, 301), (771.6, 264, 991.1, 309), (191.4, 735, 410.4, 780), (758.1, 748, 977, 793),
           (173.5, 1189, 392.5, 1234), (761.4, 1193, 981, 1237), (182, 1633, 401.3, 1678), (740.4, 1641, 959.2, 1685)]

fig = plt.figure(figsize=(W / 100, H / 100), dpi=100)
renderer = fig.canvas.get_renderer()

ov = fig.add_axes([0, 0, 1, 1], zorder=10)
ov.set_xlim(0, W)
ov.set_ylim(H, 0)
ov.axis('off')


def rate_label(x, y, r):
    t = ov.text(x, y, r + 's', fontsize=10, va='baseline')
    bb = t.get_window_extent(renderer=renderer)
    ov.text(bb.x1 + 0.4, y - 4.8, '-1', fontsize=6.2, va='baseline')


def draw_key(L, T):
    ov.add_patch(Rectangle((L, T), 99, 338, facecolor='white', edgecolor='#333333', lw=1.0))
    ov.text(L + 6, T + 16.7, 'Experimental', fontsize=10.2, va='baseline')
    ov.text(L + 6, T + 34.3, 'Results', fontsize=10.2, va='baseline')
    for i, r in enumerate(rates):
        yy = T + 49.3 + 20.5 * i
        ov.plot([L + 5.7, L + 41.7], [yy, yy], color=line_colors[i], ls=line_styles[i], lw=1.0)
        rate_label(L + 46, yy + 5.5, r)
    ov.text(L + 6, T + 192, 'Predicted', fontsize=10.2, va='baseline')
    ov.text(L + 6, T + 209.3, 'Behavior', fontsize=10.2, va='baseline')
    for i, r in enumerate(rates):
        yy = T + 225 + 20.4 * i
        ov.plot([L + 23.3], [yy], ls='none', marker=markers[i], ms=marker_sizes[i],
                mfc='none', mec='black', mew=0.8)
        rate_label(L + 46, yy + 5.5, r)


for p in range(8):
    x0, y0, sx, yt, ymax, ystep = axes_px[p]
    ax = fig.add_axes([x0 / W, 1 - y0 / H, 0.9 * sx / W, (y0 - yt) / H])
    ax.set_xlim(0, 0.9)
    ax.set_ylim(0, ymax)
    ax.patch.set_alpha(0)

    for i in range(6):
        ax.plot(exp_strain, exp_data[p][i], color=line_colors[i], ls=line_styles[i], lw=1.0, clip_on=False)
    for i in range(6):
        ax.plot(pred_strain, pred_data[p][i], ls='none', marker=markers[i], ms=marker_sizes[i],
                mfc='none', mec='black', mew=0.8, clip_on=False, zorder=3)

    for s in ['top', 'right']:
        ax.spines[s].set_visible(False)
    for s in ['left', 'bottom']:
        ax.spines[s].set_linewidth(1.0)

    ax.set_xticks([0, 0.2, 0.4, 0.6, 0.8])
    ax.set_xticklabels(['0,0', '0,2', '0,4', '0,6', '0,8'])
    ax.xaxis.set_minor_locator(MultipleLocator(0.1))
    ax.yaxis.set_major_locator(MultipleLocator(ystep))
    ax.yaxis.set_minor_locator(MultipleLocator(ystep / 2))
    ax.yaxis.set_major_formatter(FuncFormatter(lambda v, pos: '%g' % v))
    ax.tick_params(which='major', direction='out', length=3.8, width=0.8)
    ax.tick_params(which='minor', direction='out', length=2.2, width=0.8)
    ax.tick_params(axis='x', which='major', labelsize=xtick_size[p], pad=xtick_pad[p])
    ax.tick_params(axis='y', which='major', labelsize=ytick_size[p], pad=3.5)

    # axis titles
    xl = ov.text(xlabel_pos[p][0], xlabel_pos[p][1], 'True Strain', fontsize=16.5, ha='center', va='center')
    if p == 3:
        xl.set_clip_box(TransformedBbox(Bbox([[0, 0], [W, 847]]), ov.transData))
        xl.set_clip_on(True)
    ov.text(ylabel_pos[p][0], ylabel_pos[p][1], 'True Stress (MPa)', fontsize=17,
            ha='center', va='center', rotation=90)

    # panel title
    tx, b1, b2 = title_pos[p]
    ov.text(tx, b1, 'Cu C', fontsize=22, va='baseline')
    ov.text(tx, b2, temps[p] + 'ºC', fontsize=22, va='baseline')

    # activation energy box
    l, t, r, b = qsd_box[p]
    ov.add_patch(Rectangle((l, t), r - l, b - t, fill=False, edgecolor='#333333', lw=1.1))
    ov.text((l + r) / 2, (t + b) / 2 + 6, 'Q$_{\\mathrm{sd}}$ = 197000 J/mol', fontsize=16.5,
            ha='center', va='baseline')

    draw_key(*key_pos[p])

# table rules around the panels
ov.hlines([7.5, 452.5, 897.5, 1346.5], 8, W, color='black', lw=2.2)
ov.vlines([8, 583.5], 7.5, H, color='black', lw=2.2)

fig.savefig('out.png', dpi=100)
